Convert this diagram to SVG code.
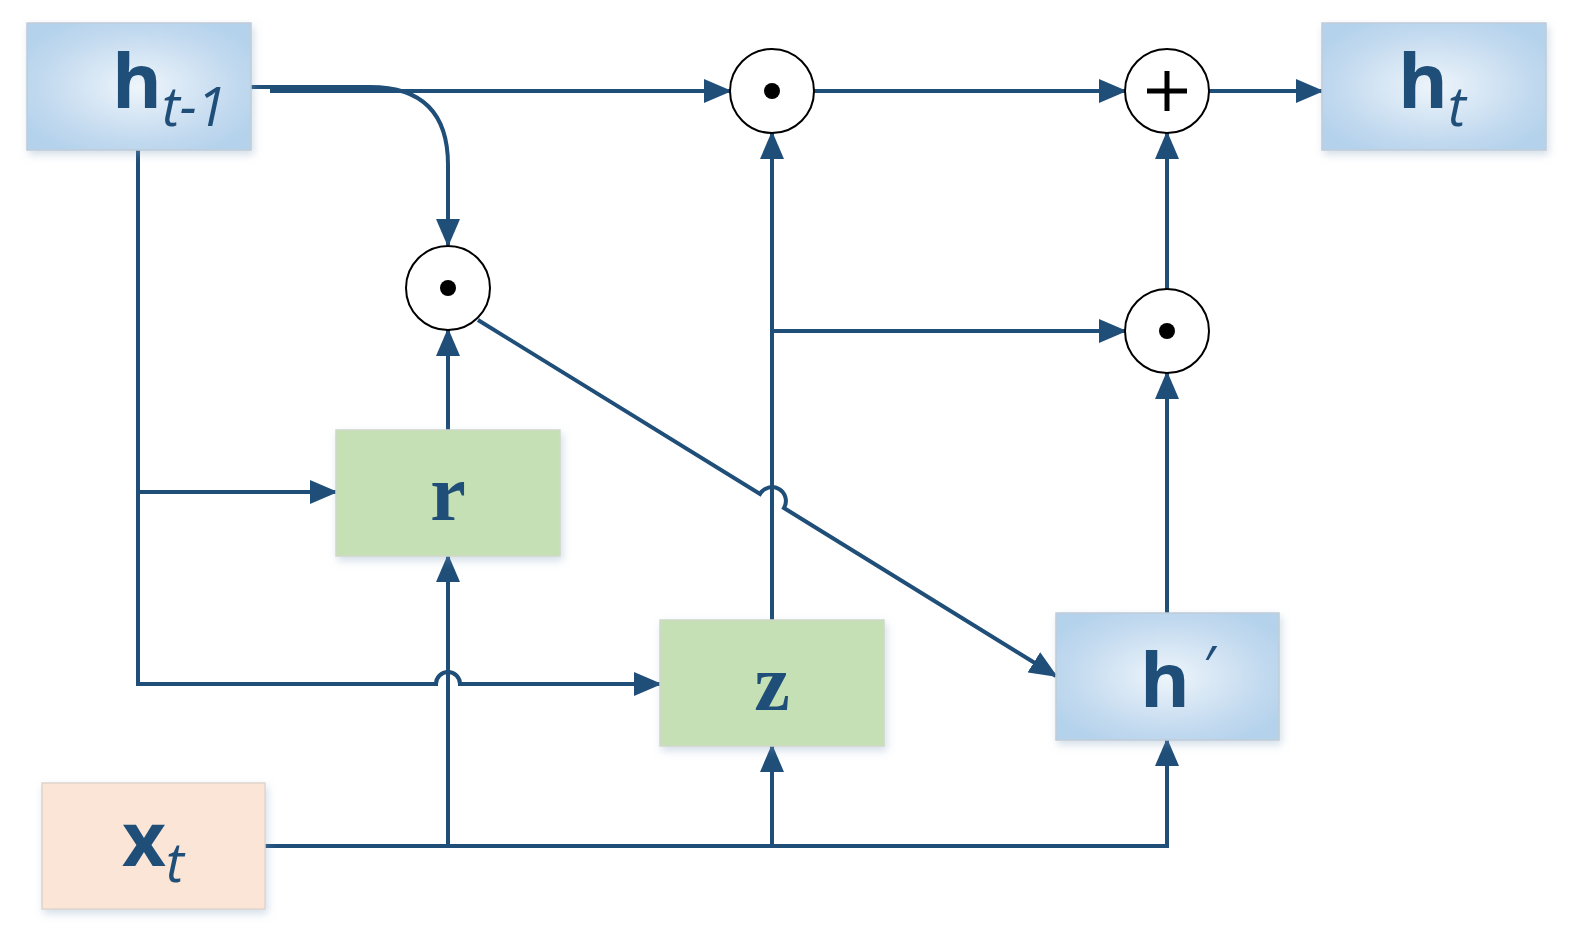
<svg xmlns="http://www.w3.org/2000/svg" width="1572" height="939" viewBox="0 0 1572 939">
<style>
.ln{fill:none;stroke:#1f4e79;stroke-width:4}
.lbl{font-family:"Open Sans","Liberation Sans",sans-serif;font-weight:bold;fill:#1f4e79}
.sub{font-family:"Open Sans","Liberation Sans",sans-serif;font-style:italic;font-weight:normal;fill:#1f4e79}
.ser{font-family:"Liberation Serif",serif;font-weight:bold;fill:#1f4e79}
.blue{fill:url(#bg);stroke:#c0ccd8;stroke-width:1.5}
.green{fill:#c5e0b4;stroke:#d0d8c8;stroke-width:1.5}
.orange{fill:#fbe5d6;stroke:#e0d4cc;stroke-width:1.5}
.op{fill:#fff;stroke:#000;stroke-width:2}
</style>
<defs>
<radialGradient id="bg" cx="0.5" cy="0.5" r="0.6">
<stop offset="0" stop-color="#eef5fb"/><stop offset="0.7" stop-color="#c3daef"/><stop offset="1" stop-color="#b4d2ec"/>
</radialGradient>
<filter id="sh" x="-10%" y="-10%" width="125%" height="130%"><feDropShadow dx="2" dy="4" stdDeviation="4" flood-color="#7f9fbf" flood-opacity="0.35"/></filter>
<marker id="ar" markerUnits="userSpaceOnUse" markerWidth="28" markerHeight="24" refX="26" refY="12" orient="auto"><path d="M0,0 L28,12 L0,24 Z" fill="#1f4e79"/></marker>
</defs>
<g id="connectors">
<path class="ln" d="M251,87 H370 Q448,87 448,165 V245" marker-end="url(#ar)"/>
<path class="ln" d="M270,91 H730" marker-end="url(#ar)"/>
<path class="ln" d="M814,91 H1125" marker-end="url(#ar)"/>
<path class="ln" d="M1209,91 H1322" marker-end="url(#ar)"/>
<path class="ln" d="M138,150 V684 H436 A12,12 0 0 1 460,684 H660" marker-end="url(#ar)"/>
<path class="ln" d="M138,492 H336" marker-end="url(#ar)"/>
<path class="ln" d="M448,430 V330" marker-end="url(#ar)"/>
<path class="ln" d="M478,320 L760,494 A13,13 0 0 1 784,508 L1056,676" marker-end="url(#ar)"/>
<path class="ln" d="M772,620 V133" marker-end="url(#ar)"/>
<path class="ln" d="M772,331 H1125" marker-end="url(#ar)"/>
<path class="ln" d="M1167,613 V373" marker-end="url(#ar)"/>
<path class="ln" d="M1167,289 V133" marker-end="url(#ar)"/>
<path class="ln" d="M265,846 H1167 V740" marker-end="url(#ar)"/>
<path class="ln" d="M448,846 V556" marker-end="url(#ar)"/>
<path class="ln" d="M772,846 V746" marker-end="url(#ar)"/>
</g>
<g id="h_prev"><rect class="blue" filter="url(#sh)" x="27" y="23" width="224" height="127"/><text class="lbl" x="112" y="108" font-size="76">h<tspan class="sub" font-size="54" dy="18">t</tspan><tspan class="sub" font-size="54" font-style="normal">-1</tspan></text></g>
<g id="h_t"><rect class="blue" filter="url(#sh)" x="1322" y="23" width="224" height="127"/><text class="lbl" x="1398" y="108" font-size="76">h<tspan class="sub" font-size="54" dy="18">t</tspan></text></g>
<g id="r"><rect class="green" filter="url(#sh)" x="336" y="430" width="224" height="126"/><text class="ser" x="448" y="520" font-size="80" text-anchor="middle">r</text></g>
<g id="z"><rect class="green" filter="url(#sh)" x="660" y="620" width="224" height="126"/><text class="ser" x="772" y="710" font-size="80" text-anchor="middle">z</text></g>
<g id="h_cand"><rect class="blue" filter="url(#sh)" x="1056" y="613" width="223" height="127"/><text class="lbl" x="1140" y="707" font-size="76">h<tspan class="sub" font-size="54" dx="12" dy="-22">′</tspan></text></g>
<g id="x_t"><rect class="orange" filter="url(#sh)" x="42" y="783" width="223" height="126"/><text class="lbl" x="122" y="866" font-size="76">x<tspan class="sub" font-size="54" dy="16">t</tspan></text></g>
<g id="mul1"><circle class="op" cx="772" cy="91" r="42"/><circle cx="772" cy="91" r="8"/></g>
<g id="plus"><circle class="op" cx="1167" cy="91" r="42"/><path d="M1147,91 H1187 M1167,71 V111" stroke="#000" stroke-width="5"/></g>
<g id="mul2"><circle class="op" cx="448" cy="288" r="42"/><circle cx="448" cy="288" r="8"/></g>
<g id="mul3"><circle class="op" cx="1167" cy="331" r="42"/><circle cx="1167" cy="331" r="8"/></g>
</svg>
